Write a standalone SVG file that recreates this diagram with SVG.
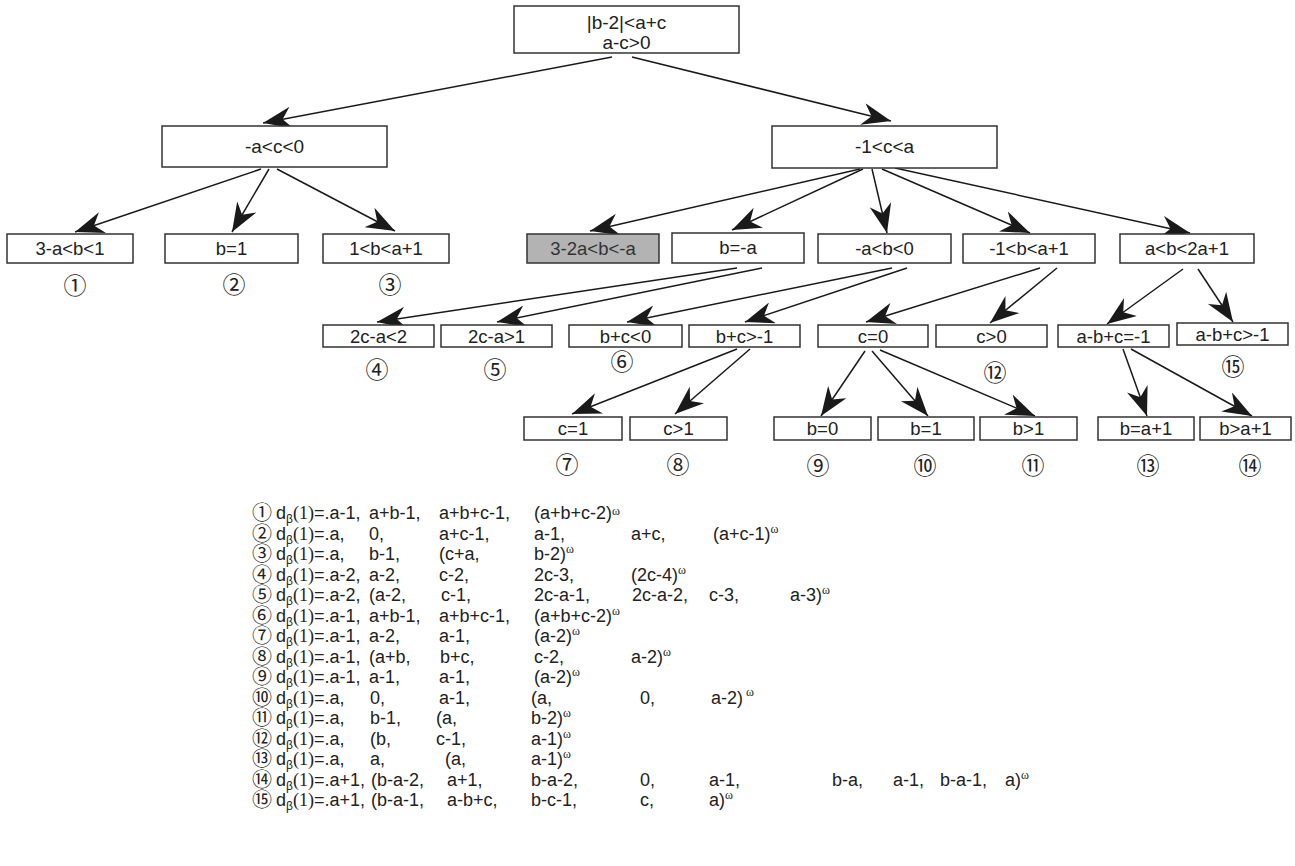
<svg xmlns="http://www.w3.org/2000/svg" width="1295" height="866" viewBox="0 0 1295 866">
<style>
.box{fill:#fff;stroke:#333;stroke-width:1.5}
.gray{fill:#b3b3b3}
.lbl{font-family:"Liberation Sans",Arial,sans-serif;font-size:18.5px;text-anchor:middle;fill:#222}
.num{font-family:"Noto Sans CJK SC","DejaVu Sans",sans-serif;font-size:23px;text-anchor:middle;fill:#222}
.f{font-family:"Liberation Sans",Arial,sans-serif;font-size:18px;fill:#222}
.fn{font-family:"Noto Sans CJK SC","DejaVu Sans",sans-serif;font-size:20px;text-anchor:middle;fill:#222}
.sr{font-family:"Liberation Serif","Times New Roman",serif}
.w{font-family:"Liberation Serif","Times New Roman",serif;font-size:12px}
.edge{stroke:#1a1a1a;stroke-width:1.5;fill:none;marker-end:url(#ah)}
</style>
<defs>
<marker id="ah" viewBox="0 0 29 22" refX="29" refY="11" markerWidth="29" markerHeight="22" markerUnits="userSpaceOnUse" orient="auto">
<path d="M0,0 L29,11 L0,22 L9,11 Z" fill="#1a1a1a"/>
</marker>
</defs>
<rect width="1295" height="866" fill="#fff"/>

<g id="connectors">
<line class="edge" x1="612" y1="57" x2="263" y2="123"/>
<line class="edge" x1="632" y1="57" x2="891" y2="121"/>
<line class="edge" x1="261" y1="169" x2="75" y2="232"/>
<line class="edge" x1="269" y1="169" x2="232" y2="232"/>
<line class="edge" x1="277" y1="169" x2="395" y2="231"/>
<line class="edge" x1="860" y1="169" x2="590" y2="231"/>
<line class="edge" x1="863" y1="169" x2="732" y2="230"/>
<line class="edge" x1="872" y1="169" x2="887" y2="233"/>
<line class="edge" x1="882" y1="169" x2="1030" y2="233"/>
<line class="edge" x1="895" y1="168" x2="1190" y2="233"/>
<line class="edge" x1="737" y1="268" x2="377" y2="322"/>
<line class="edge" x1="762" y1="268" x2="497" y2="322"/>
<line class="edge" x1="892" y1="268" x2="627" y2="322"/>
<line class="edge" x1="907" y1="268" x2="745" y2="322"/>
<line class="edge" x1="1040" y1="268" x2="866" y2="322"/>
<line class="edge" x1="1057" y1="268" x2="990" y2="323"/>
<line class="edge" x1="1183" y1="269" x2="1107" y2="324"/>
<line class="edge" x1="1198" y1="269" x2="1233" y2="322"/>
<line class="edge" x1="737" y1="349" x2="572" y2="414"/>
<line class="edge" x1="750" y1="349" x2="675" y2="414"/>
<line class="edge" x1="865" y1="351" x2="821" y2="416"/>
<line class="edge" x1="872" y1="351" x2="928" y2="416"/>
<line class="edge" x1="880" y1="350" x2="1035" y2="416"/>
<line class="edge" x1="1123" y1="349" x2="1147" y2="416"/>
<line class="edge" x1="1131" y1="349" x2="1252" y2="416"/>
</g>

<g id="n-root"><rect class="box" x="514" y="6" width="225" height="47"/>
<text class="lbl" style="font-size:19px" x="626.5" y="29">|b-2|&lt;a+c</text>
<text class="lbl" style="font-size:19px" x="626.5" y="49">a-c&gt;0</text></g>

<g id="n-L"><rect class="box" x="162" y="126" width="225" height="41"/><text class="lbl" style="font-size:19px" x="274.5" y="153">-a&lt;c&lt;0</text></g>
<g id="n-R"><rect class="box" x="772" y="126" width="225" height="42"/><text class="lbl" style="font-size:19px" x="884.5" y="153">-1&lt;c&lt;a</text></g>

<g id="n-1"><rect class="box" x="7" y="234" width="126" height="29"/><text class="lbl" x="70" y="255">3-a&lt;b&lt;1</text></g>
<g id="n-2"><rect class="box" x="165" y="234" width="133" height="29"/><text class="lbl" x="231.5" y="255">b=1</text></g>
<g id="n-3"><rect class="box" x="323" y="234" width="126" height="29"/><text class="lbl" x="386" y="255">1&lt;b&lt;a+1</text></g>
<g id="n-g"><rect class="box gray" x="527" y="234" width="132" height="29"/><text class="lbl" style="fill:#333" x="593" y="255">3-2a&lt;b&lt;-a</text></g>
<g id="n-ba"><rect class="box" x="672" y="233" width="132" height="30"/><text class="lbl" x="738" y="254">b=-a</text></g>
<g id="n-ab0"><rect class="box" x="818" y="234" width="133" height="29"/><text class="lbl" x="884.5" y="255">-a&lt;b&lt;0</text></g>
<g id="n-1ba"><rect class="box" x="963" y="234" width="132" height="29"/><text class="lbl" x="1029" y="255">-1&lt;b&lt;a+1</text></g>
<g id="n-ab2"><rect class="box" x="1120" y="234" width="134" height="29"/><text class="lbl" x="1187" y="255">a&lt;b&lt;2a+1</text></g>

<g id="n-4"><rect class="box" x="323" y="325" width="111" height="22"/><text class="lbl" x="378.5" y="342.5">2c-a&lt;2</text></g>
<g id="n-5"><rect class="box" x="441" y="325" width="111" height="22"/><text class="lbl" x="496.5" y="342.5">2c-a&gt;1</text></g>
<g id="n-6"><rect class="box" x="569" y="325" width="113" height="22"/><text class="lbl" x="625.5" y="342.5">b+c&lt;0</text></g>
<g id="n-bc1"><rect class="box" x="689" y="325" width="111" height="22"/><text class="lbl" x="744.5" y="342.5">b+c&gt;-1</text></g>
<g id="n-c0"><rect class="box" x="818" y="325" width="110" height="22"/><text class="lbl" x="873" y="342.5">c=0</text></g>
<g id="n-12"><rect class="box" x="936" y="325" width="111" height="22"/><text class="lbl" x="991.5" y="342.5">c&gt;0</text></g>
<g id="n-abc"><rect class="box" x="1058" y="325" width="111" height="22"/><text class="lbl" x="1113.5" y="342.5">a-b+c=-1</text></g>
<g id="n-15"><rect class="box" x="1177" y="323" width="111" height="22"/><text class="lbl" x="1232.5" y="340.5">a-b+c&gt;-1</text></g>

<g id="n-7"><rect class="box" x="524" y="417" width="98" height="23"/><text class="lbl" x="573" y="435">c=1</text></g>
<g id="n-8"><rect class="box" x="630" y="417" width="97" height="23"/><text class="lbl" x="678.5" y="435">c&gt;1</text></g>
<g id="n-9"><rect class="box" x="774" y="417" width="97" height="23"/><text class="lbl" x="822.5" y="435">b=0</text></g>
<g id="n-10"><rect class="box" x="878" y="417" width="96" height="23"/><text class="lbl" x="926" y="435">b=1</text></g>
<g id="n-11"><rect class="box" x="980" y="417" width="97" height="23"/><text class="lbl" x="1028.5" y="435">b&gt;1</text></g>
<g id="n-13"><rect class="box" x="1098" y="417" width="96" height="23"/><text class="lbl" x="1146" y="435">b=a+1</text></g>
<g id="n-14"><rect class="box" x="1200" y="417" width="91" height="23"/><text class="lbl" x="1245.5" y="435">b&gt;a+1</text></g>

<g id="case-numbers">
<text class="num" x="75" y="294">①</text>
<text class="num" x="234" y="293">②</text>
<text class="num" x="390" y="293">③</text>
<text class="num" x="377" y="378">④</text>
<text class="num" x="495" y="378">⑤</text>
<text class="num" x="622" y="370">⑥</text>
<text class="num" x="567" y="473">⑦</text>
<text class="num" x="678" y="473">⑧</text>
<text class="num" x="818" y="474">⑨</text>
<text class="num" x="925" y="474">⑩</text>
<text class="num" x="1033" y="474">⑪</text>
<text class="num" x="995" y="381">⑫</text>
<text class="num" x="1148" y="474">⑬</text>
<text class="num" x="1250" y="474">⑭</text>
<text class="num" x="1233" y="375">⑮</text>
</g>

<g id="formulas">
<g><text class="fn" x="262" y="520">①</text><text class="f" x="276" y="519">d<tspan font-size="12" dy="4">β</tspan><tspan class="sr" dy="-4">(1)</tspan>=.a-1,</text><text class="f" x="369" y="519">a+b-1,</text><text class="f" x="439" y="519">a+b+c-1,</text><text class="f" x="534" y="519">(a+b+c-2)<tspan class="w" dy="-4">ω</tspan></text></g>
<g><text class="fn" x="262" y="540.5">②</text><text class="f" x="276" y="539.5">d<tspan font-size="12" dy="4">β</tspan><tspan class="sr" dy="-4">(1)</tspan>=.a,</text><text class="f" x="369" y="539.5">0,</text><text class="f" x="439" y="539.5">a+c-1,</text><text class="f" x="534" y="539.5">a-1,</text><text class="f" x="631" y="539.5">a+c,</text><text class="f" x="713" y="539.5">(a+c-1)<tspan class="w" dy="-7">ω</tspan></text></g>
<g><text class="fn" x="262" y="561">③</text><text class="f" x="276" y="560">d<tspan font-size="12" dy="4">β</tspan><tspan class="sr" dy="-4">(1)</tspan>=.a,</text><text class="f" x="369" y="560">b-1,</text><text class="f" x="439" y="560">(c+a,</text><text class="f" x="534" y="560">b-2)<tspan class="w" dy="-7">ω</tspan></text></g>
<g><text class="fn" x="262" y="581.5">④</text><text class="f" x="276" y="580.5">d<tspan font-size="12" dy="4">β</tspan><tspan class="sr" dy="-4">(1)</tspan>=.a-2,</text><text class="f" x="369" y="580.5">a-2,</text><text class="f" x="439" y="580.5">c-2,</text><text class="f" x="534" y="580.5">2c-3,</text><text class="f" x="631" y="580.5">(2c-4)<tspan class="w" dy="-7">ω</tspan></text></g>
<g><text class="fn" x="262" y="602">⑤</text><text class="f" x="276" y="601">d<tspan font-size="12" dy="4">β</tspan><tspan class="sr" dy="-4">(1)</tspan>=.a-2,</text><text class="f" x="369" y="601">(a-2,</text><text class="f" x="441" y="601">c-1,</text><text class="f" x="534" y="601">2c-a-1,</text><text class="f" x="632" y="601">2c-a-2,</text><text class="f" x="709" y="601">c-3,</text><text class="f" x="790" y="601">a-3)<tspan class="w" dy="-7">ω</tspan></text></g>
<g><text class="fn" x="262" y="622.5">⑥</text><text class="f" x="276" y="621.5">d<tspan font-size="12" dy="4">β</tspan><tspan class="sr" dy="-4">(1)</tspan>=.a-1,</text><text class="f" x="369" y="621.5">a+b-1,</text><text class="f" x="439" y="621.5">a+b+c-1,</text><text class="f" x="534" y="621.5">(a+b+c-2)<tspan class="w" dy="-7">ω</tspan></text></g>
<g><text class="fn" x="262" y="643">⑦</text><text class="f" x="276" y="642">d<tspan font-size="12" dy="4">β</tspan><tspan class="sr" dy="-4">(1)</tspan>=.a-1,</text><text class="f" x="369" y="642">a-2,</text><text class="f" x="439" y="642">a-1,</text><text class="f" x="534" y="642">(a-2)<tspan class="w" dy="-7">ω</tspan></text></g>
<g><text class="fn" x="262" y="663.5">⑧</text><text class="f" x="276" y="662.5">d<tspan font-size="12" dy="4">β</tspan><tspan class="sr" dy="-4">(1)</tspan>=.a-1,</text><text class="f" x="369" y="662.5">(a+b,</text><text class="f" x="440" y="662.5">b+c,</text><text class="f" x="534" y="662.5">c-2,</text><text class="f" x="631" y="662.5">a-2)<tspan class="w" dy="-7">ω</tspan></text></g>
<g><text class="fn" x="262" y="684">⑨</text><text class="f" x="276" y="683">d<tspan font-size="12" dy="4">β</tspan><tspan class="sr" dy="-4">(1)</tspan>=.a-1,</text><text class="f" x="369" y="683">a-1,</text><text class="f" x="439" y="683">a-1,</text><text class="f" x="534" y="683">(a-2)<tspan class="w" dy="-7">ω</tspan></text></g>
<g><text class="fn" x="262" y="704.5">⑩</text><text class="f" x="276" y="703.5">d<tspan font-size="12" dy="4">β</tspan><tspan class="sr" dy="-4">(1)</tspan>=.a,</text><text class="f" x="370" y="703.5">0,</text><text class="f" x="439" y="703.5">a-1,</text><text class="f" x="531" y="703.5">(a,</text><text class="f" x="640" y="703.5">0,</text><text class="f" x="711" y="703.5">a-2)<tspan class="w" dx="3" dy="-8">ω</tspan></text></g>
<g><text class="fn" x="262" y="725">⑪</text><text class="f" x="276" y="724">d<tspan font-size="12" dy="4">β</tspan><tspan class="sr" dy="-4">(1)</tspan>=.a,</text><text class="f" x="370" y="724">b-1,</text><text class="f" x="436" y="724">(a,</text><text class="f" x="531" y="724">b-2)<tspan class="w" dy="-7">ω</tspan></text></g>
<g><text class="fn" x="262" y="745.5">⑫</text><text class="f" x="276" y="744.5">d<tspan font-size="12" dy="4">β</tspan><tspan class="sr" dy="-4">(1)</tspan>=.a,</text><text class="f" x="370" y="744.5">(b,</text><text class="f" x="436" y="744.5">c-1,</text><text class="f" x="531" y="744.5">a-1)<tspan class="w" dy="-7">ω</tspan></text></g>
<g><text class="fn" x="262" y="766">⑬</text><text class="f" x="276" y="765">d<tspan font-size="12" dy="4">β</tspan><tspan class="sr" dy="-4">(1)</tspan>=.a,</text><text class="f" x="370" y="765">a,</text><text class="f" x="445" y="765">(a,</text><text class="f" x="531" y="765">a-1)<tspan class="w" dy="-7">ω</tspan></text></g>
<g><text class="fn" x="262" y="786.5">⑭</text><text class="f" x="276" y="785.5">d<tspan font-size="12" dy="4">β</tspan><tspan class="sr" dy="-4">(1)</tspan>=.a+1,</text><text class="f" x="371" y="785.5">(b-a-2,</text><text class="f" x="447" y="785.5">a+1,</text><text class="f" x="531" y="785.5">b-a-2,</text><text class="f" x="640" y="785.5">0,</text><text class="f" x="709" y="785.5">a-1,</text><text class="f" x="832" y="785.5">b-a,</text><text class="f" x="893" y="785.5">a-1,</text><text class="f" x="940" y="785.5">b-a-1,</text><text class="f" x="1005" y="785.5">a)<tspan class="w" dy="-7">ω</tspan></text></g>
<g><text class="fn" x="262" y="807">⑮</text><text class="f" x="276" y="806">d<tspan font-size="12" dy="4">β</tspan><tspan class="sr" dy="-4">(1)</tspan>=.a+1,</text><text class="f" x="371" y="806">(b-a-1,</text><text class="f" x="447" y="806">a-b+c,</text><text class="f" x="531" y="806">b-c-1,</text><text class="f" x="640" y="806">c,</text><text class="f" x="709" y="806">a)<tspan class="w" dy="-7">ω</tspan></text></g>
</g>
</svg>
